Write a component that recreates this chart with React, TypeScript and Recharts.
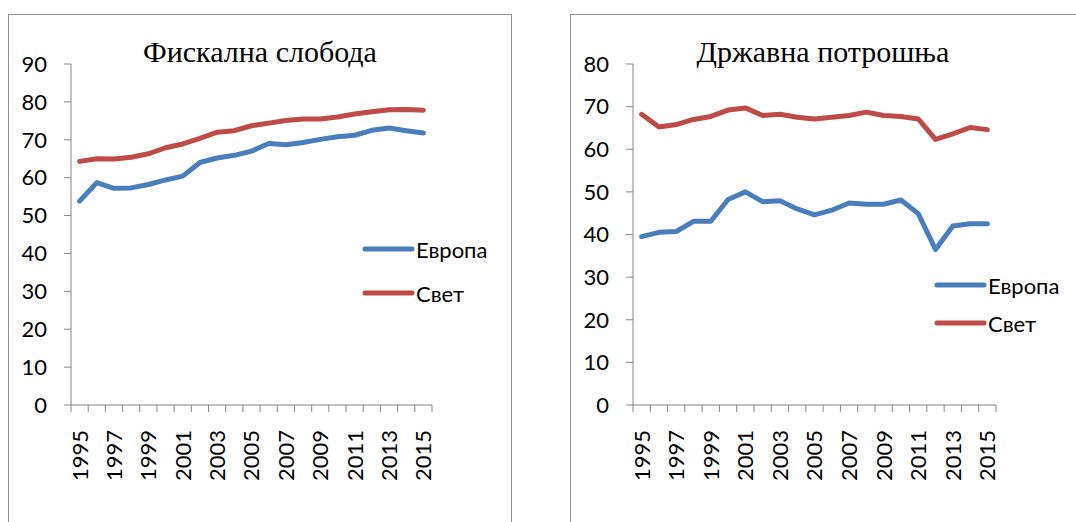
import React from "react";
import { LineChart, Line, XAxis, YAxis } from "recharts";

const years = [
  1995, 1996, 1997, 1998, 1999, 2000, 2001, 2002, 2003, 2004, 2005,
  2006, 2007, 2008, 2009, 2010, 2011, 2012, 2013, 2014, 2015,
];
const labelYears = [1995, 1997, 1999, 2001, 2003, 2005, 2007, 2009, 2011, 2013, 2015];

// Фискална слобода
const fiscalEurope = [
  53.8, 58.7, 57.2, 57.3, 58.2, 59.4, 60.4, 64.0, 65.2, 65.9, 67.0,
  69.0, 68.7, 69.3, 70.1, 70.8, 71.2, 72.5, 73.1, 72.4, 71.8,
];
const fiscalWorld = [
  64.3, 65.0, 64.9, 65.4, 66.3, 67.9, 68.9, 70.4, 72.0, 72.4, 73.7,
  74.4, 75.1, 75.5, 75.5, 76.0, 76.8, 77.4, 77.9, 78.0, 77.8,
];

// Државна потрошња
const spendingEurope = [
  39.5, 40.5, 40.7, 43.1, 43.1, 48.2, 50.0, 47.7, 47.9, 46.0, 44.6,
  45.7, 47.4, 47.1, 47.1, 48.1, 44.9, 36.5, 42.0, 42.5, 42.5,
];
const spendingWorld = [
  68.2, 65.2, 65.8, 67.0, 67.7, 69.2, 69.7, 67.9, 68.2, 67.5, 67.1,
  67.5, 67.9, 68.7, 67.9, 67.7, 67.1, 62.3, 63.6, 65.1, 64.6,
];

const fiscalTicks = [0, 10, 20, 30, 40, 50, 60, 70, 80, 90];
const spendingTicks = [0, 10, 20, 30, 40, 50, 60, 70, 80];

const seriesNames = ["Европа", "Свет"];
const seriesColors = ["#4A7EBB", "#BE4B48"];

const FONT = "Lato, 'Open Sans', sans-serif";
const AXIS = "#868686";

// tick marks sit between years (Excel style), labels on every other year
const xTicks = [
  ...years.map((y) => y - 0.5),
  years[years.length - 1] + 0.5,
  ...labelYears,
].sort((a, b) => a - b);

const YearTick = (props: any) => {
  const { x, y, payload } = props;
  const v = payload.value;
  if (!Number.isInteger(v)) {
    return <line x1={x} y1={y} x2={x} y2={y + 7} stroke={AXIS} strokeWidth={1} />;
  }
  const ty = y + 25;
  return (
    <text
      x={x}
      y={ty}
      dy="0.36em"
      transform={`rotate(-90, ${x}, ${ty})`}
      textAnchor="end"
      fontSize={22}
      fontFamily={FONT}
      fill="#000"
    >
      {v}
    </text>
  );
};

type PanelProps = {
  title: string;
  europe: number[];
  world: number[];
  yTicks: number[];
  width: number;
  yAxisWidth: number;
  rightMargin: number;
  titleCenter: number;
  legendLeft: number;
  legendTop: number;
  legendGap: number;
};

const Panel: React.FC<PanelProps> = ({
  title,
  europe,
  world,
  yTicks,
  width,
  yAxisWidth,
  rightMargin,
  titleCenter,
  legendLeft,
  legendTop,
  legendGap,
}) => {
  const data = years.map((year, i) => ({ year, europe: europe[i], world: world[i] }));
  return (
    <div style={{ position: "relative", width, height: 522 }}>
      <LineChart
        width={width}
        height={522}
        data={data}
        margin={{ top: 64, right: rightMargin, left: 0, bottom: 0 }}
      >
        <XAxis
          dataKey="year"
          type="number"
          domain={[years[0] - 0.5, years[years.length - 1] + 0.5]}
          ticks={xTicks}
          interval={0}
          height={117}
          tickSize={0}
          tickMargin={0}
          tickLine={false}
          axisLine={{ stroke: AXIS, strokeWidth: 1 }}
          tick={<YearTick />}
        />
        <YAxis
          domain={[yTicks[0], yTicks[yTicks.length - 1]]}
          ticks={yTicks}
          interval={0}
          width={yAxisWidth}
          tickSize={7}
          tickMargin={17}
          axisLine={{ stroke: AXIS, strokeWidth: 1 }}
          tickLine={{ stroke: AXIS, strokeWidth: 1 }}
          tick={{ fill: "#000", fontSize: 22, fontFamily: FONT }}
        />
        <Line
          dataKey="europe"
          name={seriesNames[0]}
          stroke={seriesColors[0]}
          strokeWidth={5}
          strokeLinecap="round"
          strokeLinejoin="round"
          dot={false}
          isAnimationActive={false}
        />
        <Line
          dataKey="world"
          name={seriesNames[1]}
          stroke={seriesColors[1]}
          strokeWidth={5}
          strokeLinecap="round"
          strokeLinejoin="round"
          dot={false}
          isAnimationActive={false}
        />
      </LineChart>
      <div
        style={{
          position: "absolute",
          left: titleCenter - 200,
          width: 400,
          top: 37,
          textAlign: "center",
          fontFamily: "'Liberation Serif', 'Times New Roman', serif",
          fontSize: 30,
          lineHeight: "30px",
          color: "#000",
        }}
      >
        {title}
      </div>
      {seriesNames.map((name, i) => (
        <div
          key={name}
          style={{
            position: "absolute",
            left: legendLeft,
            top: legendTop + i * legendGap - 14,
            height: 28,
            display: "flex",
            alignItems: "center",
            fontFamily: FONT,
            fontSize: 22,
            color: "#000",
            whiteSpace: "nowrap",
          }}
        >
          <svg width={54} height={10} style={{ display: "block" }}>
            <line x1={3} y1={5} x2={50} y2={5} stroke={seriesColors[i]} strokeWidth={5} strokeLinecap="round" />
          </svg>
          <span>{name}</span>
        </div>
      ))}
    </div>
  );
};

const App: React.FC = () => (
  <div
    style={{
      position: "absolute",
      left: 0,
      top: 0,
      width: 1076,
      height: 522,
      overflow: "hidden",
      background: "#fff",
    }}
  >
    <div
      style={{
        position: "absolute",
        left: 8,
        top: 14,
        width: 504,
        height: 600,
        boxSizing: "border-box",
        border: "1px solid #8f8f8f",
      }}
    />
    <div
      style={{
        position: "absolute",
        left: 570,
        top: 14,
        width: 600,
        height: 600,
        boxSizing: "border-box",
        border: "1px solid #8f8f8f",
      }}
    />
    <div style={{ position: "absolute", left: 0, top: 0 }}>
      <Panel
        title="Фискална слобода"
        europe={fiscalEurope}
        world={fiscalWorld}
        yTicks={fiscalTicks}
        width={540}
        yAxisWidth={71}
        rightMargin={108}
        titleCenter={260}
        legendLeft={362}
        legendTop={249}
        legendGap={44}
      />
    </div>
    <div style={{ position: "absolute", left: 540, top: 0 }}>
      <Panel
        title="Државна потрошња"
        europe={spendingEurope}
        world={spendingWorld}
        yTicks={spendingTicks}
        width={536}
        yAxisWidth={93}
        rightMargin={80}
        titleCenter={283}
        legendLeft={394}
        legendTop={285}
        legendGap={38}
      />
    </div>
  </div>
);

export default App;
